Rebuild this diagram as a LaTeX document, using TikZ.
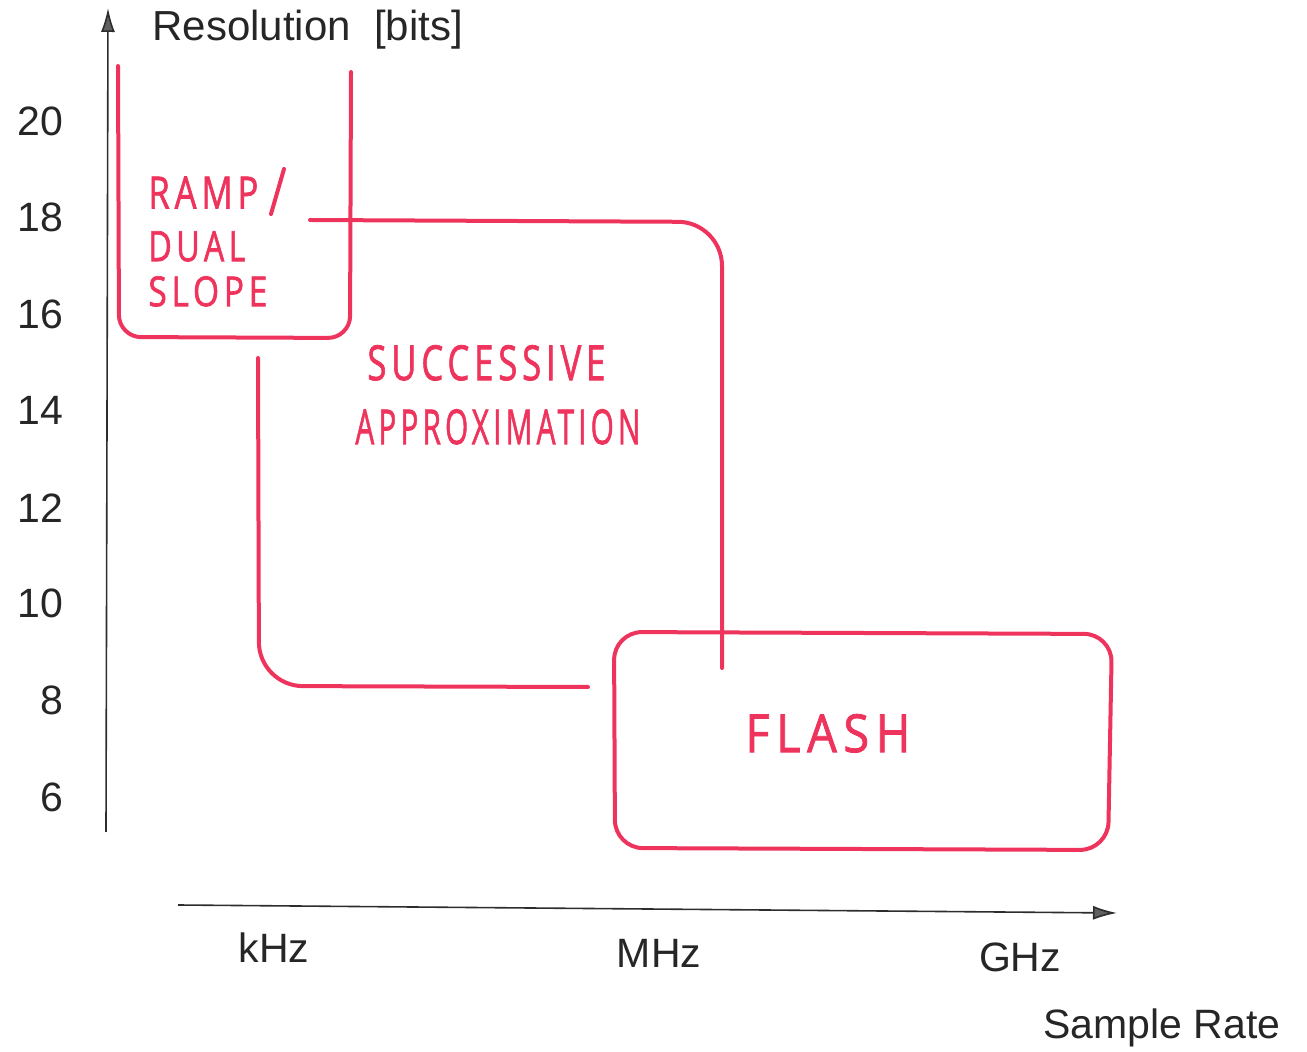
\documentclass[tikz,border=0pt]{standalone}
\usepackage{fontspec}
\setmainfont{Liberation Sans}
\newfontfamily\handfont[LetterSpace=14,FakeBold=1.6]{Open Sans}
\usetikzlibrary{arrows.meta}
\definecolor{pen}{RGB}{238,52,92}
\definecolor{axisgray}{RGB}{45,45,45}
\newcommand{\handtext}[3]{\resizebox{#1pt}{#2pt}{\handfont #3}}
\tikzset{
  axis/.style={draw=axisgray, line width=0.8pt, -{Latex[length=12pt,width=7pt,fill=gray!75!black]}},
  redline/.style={draw=pen, line width=2pt, line cap=round, line join=round, rounded corners=11pt},
  tick/.style={font=\fontsize{20.5}{22}\selectfont, text=black!85, anchor=east, inner sep=0pt},
  xlab/.style={font=\fontsize{20.5}{22}\selectfont, text=black!85, inner sep=0pt},
  hand/.style={text=pen, inner sep=0pt, anchor=south west}
}
\begin{document}
\begin{tikzpicture}[x=0.5pt,y=-0.5pt]
\useasboundingbox (0,0) rectangle (1307,1052);
% axes
\coordinate (yorig) at (106,832);
\coordinate (ytop) at (108,8);
\coordinate (xorig) at (178,905);
\coordinate (xend) at (1117,913);
\draw[axis] (yorig) -- (ytop);
\draw[axis] (xorig) -- (xend);
% axis titles
\node[xlab, anchor=west, font=\fontsize{21}{22}\selectfont] (ytitle) at (152,30) {Resolution\ \ [bits]};
\node[xlab] (xtitle) at (1162,1028) {Sample Rate};
% tick labels
\node[tick] (t20) at (64,121) {20};
\node[tick] (t18) at (64,217) {18};
\node[tick] (t16) at (64,314) {16};
\node[tick] (t14) at (64,410) {14};
\node[tick] (t12) at (64,508) {12};
\node[tick] (t10) at (64,603) {10};
\node[tick] (t8) at (64,700) {8};
\node[tick] (t6) at (64,797) {6};
\node[xlab] (khz) at (274,948) {kHz};
\node[xlab] (mhz) at (659,953) {MHz};
\node[xlab] (ghz) at (1020,957) {GHz};
% ramp / dual slope region
\draw[redline] (118,66) -- (119,337) -- (350,338) -- (351,72);
% successive approximation region
\draw[redline, rounded corners=22pt] (310,220) -- (722,222) -- (722,668);
\draw[redline, rounded corners=22pt] (258,358) -- (259,686) -- (588,687);
% flash region
\draw[redline, rounded corners=14pt] (614,632) -- (1112,634) -- (1108,850) -- (615,848) -- cycle;
% labels
\node[hand] (ramp) at (148,209) {\handtext{55}{16}{RAMP}};
\draw[redline] (284,169) -- (271,214);
\node[hand] (dual) at (148,262) {\handtext{48.5}{15}{DUAL}};
\node[hand] (slope) at (148,307) {\handtext{59.5}{15}{SLOPE}};
\node[hand] (succ) at (367,381) {\handtext{119}{17.5}{SUCCESSIVE}};
\node[hand] (appr) at (355,445) {\handtext{142.5}{17.5}{APPROXIMATION}};
\node[hand] (flash) at (745,753) {\handtext{82.5}{19}{FLASH}};
\end{tikzpicture}
\end{document}
